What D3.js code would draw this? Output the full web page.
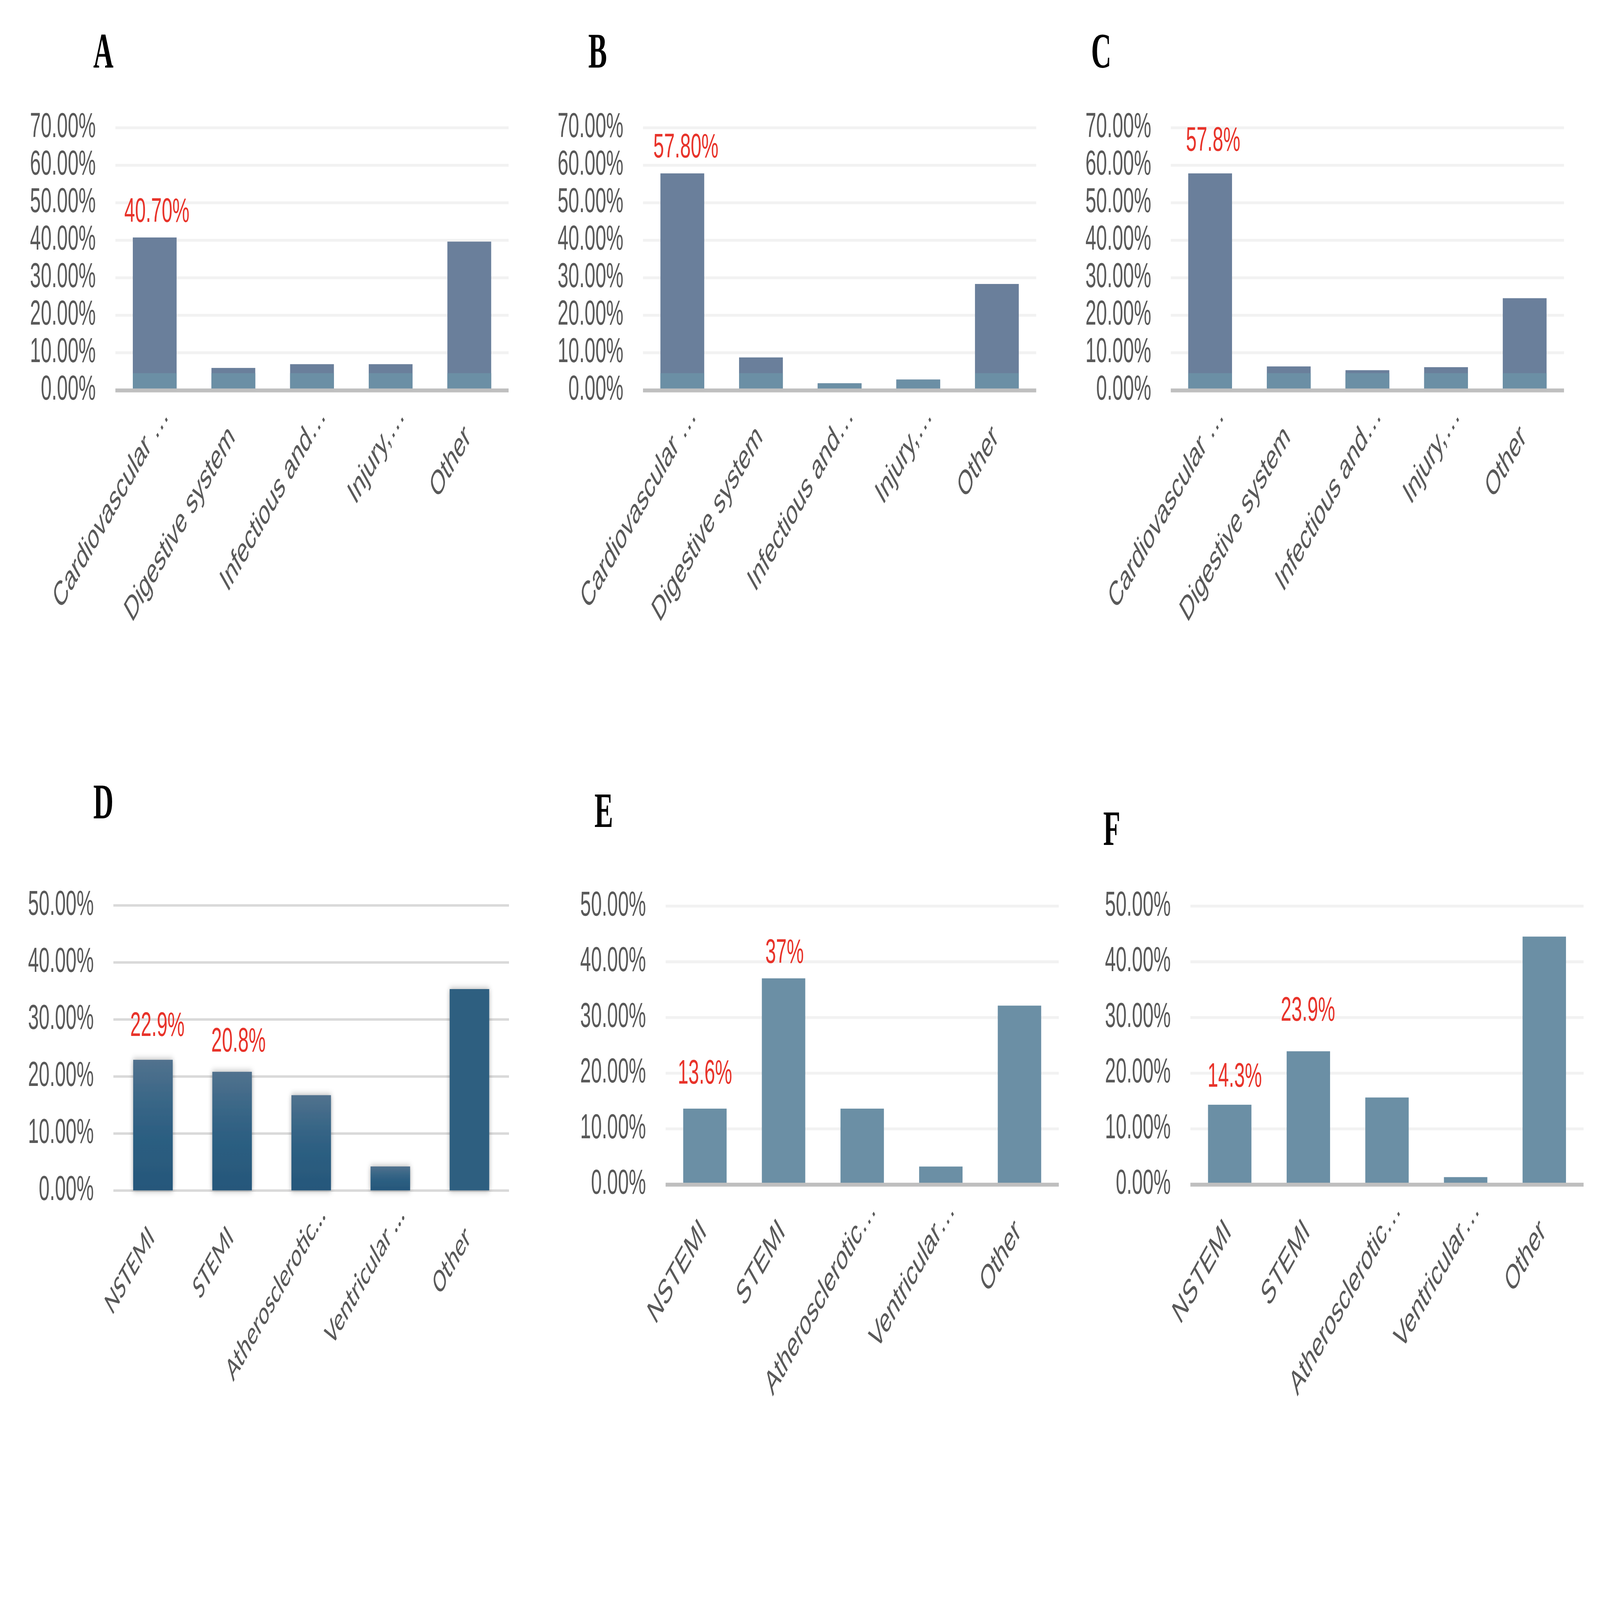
<!DOCTYPE html>
<html><head><meta charset="utf-8">
<script src="https://cdn.jsdelivr.net/npm/d3@7"></script>
<style>html,body{margin:0;padding:0;background:#fff;overflow:hidden}#chart{display:block;width:100vw;height:100vh}</style>
</head><body>
<svg id="chart" viewBox="0 0 8000 4500" preserveAspectRatio="none"></svg>
<script>
// ---------- data ----------
const causeCategories = ["Cardiovascular \u2026", "Digestive system", "Infectious and\u2026", "Injury,\u2026", "Other"];
const miCategoriesD = ["NSTEMI", "STEMI", "Atherosclerotic\u2026", "Ventricular \u2026", "Other"];
const miCategoriesEF = ["NSTEMI", "STEMI", "Atherosclerotic\u2026", "Ventricular\u2026", "Other"];

const valuesA = [40.7, 5.9, 6.9, 6.9, 39.6];
const valuesB = [57.8, 8.7, 1.8, 2.8, 28.3];
const valuesC = [57.8, 6.3, 5.3, 6.1, 24.5];
const valuesD = [22.9, 20.8, 16.7, 4.2, 35.3];
const valuesE = [13.6, 37.0, 13.6, 3.2, 32.1];
const valuesF = [14.3, 23.9, 15.6, 1.3, 44.5];

const ticksTop = [0, 10, 20, 30, 40, 50, 60, 70];
const ticksBottom = [0, 10, 20, 30, 40, 50];

const labelsA = [{i: 0, text: "40.70%"}];
const labelsB = [{i: 0, text: "57.80%"}];
const labelsC = [{i: 0, text: "57.8%"}];
const labelsD = [{i: 0, text: "22.9%"}, {i: 1, text: "20.8%"}];
const labelsE = [{i: 0, text: "13.6%"}, {i: 1, text: "37%"}];
const labelsF = [{i: 0, text: "14.3%"}, {i: 1, text: "23.9%"}];

// ---------- layout / style (not data) ----------
const labelNudge = {
  A: [[11, 44]], B: [[18, 45]], C: [[15, 64]],
  D: [[22, 67], [32, 57]], E: [[0, 70], [5, 43]], F: [[25, 51], [-2, 86]]
};
const panels = [
  {id: "A", cats: causeCategories, vals: valuesA, ticks: ticksTop, labels: labelsA, left: 577, right: 2543, y0: 1097, yTop: 359, lx: 517, ly: 190, kind: "two"},
  {id: "B", cats: causeCategories, vals: valuesB, ticks: ticksTop, labels: labelsB, left: 3215, right: 5181, y0: 1097, yTop: 359, lx: 2988, ly: 190, kind: "two"},
  {id: "C", cats: causeCategories, vals: valuesC, ticks: ticksTop, labels: labelsC, left: 5854, right: 7820, y0: 1097, yTop: 359, lx: 5506, ly: 190, kind: "two"},
  {id: "D", cats: miCategoriesD, vals: valuesD, ticks: ticksBottom, labels: labelsD, left: 567, right: 2545, y0: 3348, yTop: 2546, lx: 517, ly: 2302, kind: "grad"},
  {id: "E", cats: miCategoriesEF, vals: valuesE, ticks: ticksBottom, labels: labelsE, left: 3328, right: 5294, y0: 3331, yTop: 2548, lx: 3019, ly: 2326, kind: "flat"},
  {id: "F", cats: miCategoriesEF, vals: valuesF, ticks: ticksBottom, labels: labelsF, left: 5952, right: 7918, y0: 3331, yTop: 2548, lx: 5559, ly: 2376, kind: "flat"}
];

const svg = d3.select("#chart");
svg.append("rect").attr("width", 8000).attr("height", 4500).attr("fill", "#fff");

const defs = svg.append("defs");
const grad = defs.append("linearGradient").attr("id", "gradD").attr("x1", 0).attr("y1", 0).attr("x2", 0).attr("y2", 1);
grad.append("stop").attr("offset", "0%").attr("stop-color", "#52728e");
grad.append("stop").attr("offset", "30%").attr("stop-color", "#3a6787");
grad.append("stop").attr("offset", "55%").attr("stop-color", "#2d5f82");
grad.append("stop").attr("offset", "100%").attr("stop-color", "#26577a");
const shadow = defs.append("filter").attr("id", "shadowD").attr("x", "-30%").attr("y", "-30%").attr("width", "160%").attr("height", "160%");
shadow.append("feDropShadow").attr("dx", 0).attr("dy", 0).attr("stdDeviation", 10)
  .attr("flood-color", "#000").attr("flood-opacity", 0.35);

const SANS = "'Liberation Sans', Arial, sans-serif";
const BASE_BAND = 4.5; // lighter base band height in chart style A-C

panels.forEach(p => {
  const g = svg.append("g");
  const x = d3.scaleBand().domain(p.cats).range([p.left, p.right]);
  const isD = p.kind === "grad";
  const pad = isD ? 0.5 : (p.kind === "two" ? 0.443 : 0.448);
  x.paddingInner(pad).paddingOuter(pad / 2);
  const yMax = d3.max(p.ticks);
  const y = d3.scaleLinear().domain([0, yMax]).range([p.y0, p.yTop]);

  // panel letter
  g.append("text").attr("x", p.lx).attr("y", p.ly).attr("text-anchor", "middle")
    .attr("font-family", "'Liberation Serif', 'Times New Roman', serif").attr("font-weight", "bold")
    .attr("font-size", 140).attr("fill", "#000").text(p.id);

  // y axis with gridlines
  const yAxis = d3.axisLeft(y).tickValues(p.ticks).tickSize(-(p.right - p.left)).tickPadding(98)
    .tickFormat(d => d.toFixed(2) + "%");
  const ya = g.append("g").attr("transform", `translate(${p.left},0)`).call(yAxis);
  ya.select(".domain").remove();
  ya.selectAll(".tick line").attr("stroke", isD ? "#d9d9d9" : "#f2f2f2").attr("stroke-width", isD ? 7 : 8);
  ya.selectAll(".tick text").attr("font-family", SANS).attr("font-size", 97).attr("fill", "#595959").attr("dy", "0.27em");

  // bars
  const bars = g.append("g");
  if (p.kind === "two") {
    bars.selectAll("rect.main").data(p.vals).join("rect").attr("class", "main")
      .attr("x", (d, i) => x(p.cats[i])).attr("width", x.bandwidth())
      .attr("y", d => y(d)).attr("height", d => y(0) - y(d)).attr("fill", "#6a7f9b");
    bars.selectAll("rect.base").data(p.vals).join("rect").attr("class", "base")
      .attr("x", (d, i) => x(p.cats[i])).attr("width", x.bandwidth())
      .attr("y", d => y(Math.min(d, BASE_BAND))).attr("height", d => y(0) - y(Math.min(d, BASE_BAND))).attr("fill", "#6b8fa5");
  } else if (isD) {
    bars.selectAll("rect").data(p.vals).join("rect")
      .attr("x", (d, i) => x(p.cats[i])).attr("width", x.bandwidth())
      .attr("y", d => y(d)).attr("height", d => y(0) - y(d))
      .attr("fill", (d, i) => p.cats[i] === "Other" ? "#2d5e80" : "url(#gradD)")
      .attr("filter", "url(#shadowD)");
  } else {
    bars.selectAll("rect").data(p.vals).join("rect")
      .attr("x", (d, i) => x(p.cats[i])).attr("width", x.bandwidth())
      .attr("y", d => y(d)).attr("height", d => y(0) - y(d)).attr("fill", "#6b8fa5");
  }

  // baseline
  if (!isD) {
    g.append("line").attr("x1", p.left).attr("x2", p.right).attr("y1", y(0) + 1).attr("y2", y(0) + 1)
      .attr("stroke", "#bfbfbf").attr("stroke-width", 11);
  }

  // category axis
  const xAxis = d3.axisBottom(x).tickSize(0);
  const xa = g.append("g").attr("transform", `translate(0,${p.y0})`).call(xAxis);
  xa.select(".domain").remove();
  xa.selectAll(".tick text")
    .attr("font-family", isD ? "Carlito, Lato, sans-serif" : SANS)
    .attr("font-size", isD ? 96 : 97).attr("fill", "#595959")
    .attr("text-anchor", "end").attr("x", 0).attr("y", 0).attr("dy", 0)
    .attr("dx", d => d.endsWith("\u2026") ? 88 : 0)
    .attr("transform", "translate(12,137) rotate(-45)");

  // highlighted value labels
  const nudges = labelNudge[p.id];
  g.selectAll("text.val").data(p.labels).join("text").attr("class", "val")
    .attr("x", (d, k) => x(p.cats[d.i]) + x.bandwidth() / 2 + nudges[k][0])
    .attr("y", (d, k) => y(p.vals[d.i]) - nudges[k][1])
    .attr("text-anchor", "middle").attr("font-family", SANS).attr("font-size", 96)
    .attr("fill", "#e8332a").text(d => d.text);
});
</script>
</body></html>
